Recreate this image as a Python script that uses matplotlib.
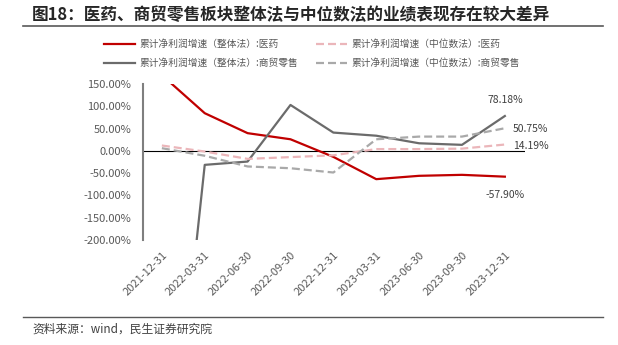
import matplotlib
matplotlib.use('Agg')
import matplotlib.pyplot as plt
from matplotlib.lines import Line2D

plt.rcParams['font.family'] = ['Noto Sans CJK SC', 'DejaVu Sans']
plt.rcParams['axes.unicode_minus'] = False

# 累计净利润增速 (%)
dates = ['2021-12-31', '2022-03-31', '2022-06-30', '2022-09-30', '2022-12-31',
         '2023-03-31', '2023-06-30', '2023-09-30', '2023-12-31']
pharma_total = [170.0, 84.5, 39.7, 26.0, -13.5, -63.5, -56.0, -53.8, -57.90]
retail_total = [-930.0, -31.4, -24.0, 103.0, 41.0, 34.0, 17.0, 13.5, 78.18]
pharma_median = [12.0, -1.5, -18.0, -14.0, -10.0, 4.0, 4.0, 5.0, 14.19]
retail_median = [6.0, -11.0, -35.0, -39.0, -48.6, 26.0, 32.0, 32.0, 50.75]
series_names = ['累计净利润增速（整体法）:医药', '累计净利润增速（整体法）:商贸零售',
                '累计净利润增速（中位数法）:医药', '累计净利润增速（中位数法）:商贸零售']
yticks = [150, 100, 50, 0, -50, -100, -150, -200]

W, H = 618, 345
fig = plt.figure(figsize=(W / 100, H / 100), dpi=100)
ax = fig.add_axes([143 / W, 1 - 240 / H, 382 / W, 156 / H])

x = list(range(len(dates)))
lw = 1.6
dash = (3.6, 1.8)
l1, = ax.plot(x, pharma_total, color='#C00000', lw=lw)
l2, = ax.plot(x, retail_total, color='#6B6B6B', lw=lw)
l3, = ax.plot(x, pharma_median, color='#EBB6BA', lw=lw, linestyle=(0, dash))
l4, = ax.plot(x, retail_median, color='#A9A9A9', lw=lw, linestyle=(0, dash))

ax.axhline(0, color='black', lw=0.8, zorder=1)

ax.set_xlim(-0.44, 8.47)
ax.set_ylim(-200, 150)
ax.set_yticks(yticks)
ax.set_yticklabels([f'{v:.2f}%' for v in yticks])
ax.set_xticks(x)
ax.set_xticklabels(dates, rotation=45, ha='right', rotation_mode='anchor')
ax.tick_params(axis='y', length=0, pad=8.6, labelsize=8, labelcolor='#595959')
ax.tick_params(axis='x', length=0, pad=7, labelsize=8, labelcolor='#595959')
for s in ['top', 'right', 'bottom']:
    ax.spines[s].set_visible(False)
ax.spines['left'].set_color('#7F7F7F')
ax.spines['left'].set_linewidth(1.5)

# end-point value labels
last = len(dates) - 1
lab_kw = dict(textcoords='offset pixels', fontsize=7.5, color='#404040')
ax.annotate(f'{retail_total[-1]:.2f}%', (last, retail_total[-1]), xytext=(0, 16),
            ha='center', va='center', **lab_kw)
ax.annotate(f'{retail_median[-1]:.2f}%', (last, retail_median[-1]), xytext=(8, -1),
            ha='left', va='center', **lab_kw)
ax.annotate(f'{pharma_median[-1]:.2f}%', (last, pharma_median[-1]), xytext=(8, -1),
            ha='left', va='center', **lab_kw)
ax.annotate(f'{pharma_total[-1]:.2f}%', (last, pharma_total[-1]), xytext=(0, -18),
            ha='center', va='center', **lab_kw)

fig.legend([l1, l2, l3, l4], series_names, ncol=2, loc='upper left',
           bbox_to_anchor=(104 / W, 1 - 39 / H), frameon=False, fontsize=7,
           handlelength=3.2, handletextpad=0.4, columnspacing=1.9,
           labelspacing=0.95, borderpad=0, borderaxespad=0,
           labelcolor='#595959')

# title and rules
fig.text(32 / W, 1 - 15 / H, '图18：医药、商贸零售板块整体法与中位数法的业绩表现存在较大差异',
         fontsize=12, fontweight='bold', color='#262626', va='center', ha='left')
fig.add_artist(Line2D([23 / W, 603 / W], [1 - 26 / H, 1 - 26 / H], color='#595959', lw=1.2))
fig.add_artist(Line2D([23 / W, 603 / W], [1 - 317 / H, 1 - 317 / H], color='#595959', lw=1.0))
fig.text(32 / W, 1 - 329 / H, '资料来源：wind，民生证券研究院', fontsize=8.5,
         color='#404040', va='center', ha='left')

fig.savefig('out.png', dpi=100)
